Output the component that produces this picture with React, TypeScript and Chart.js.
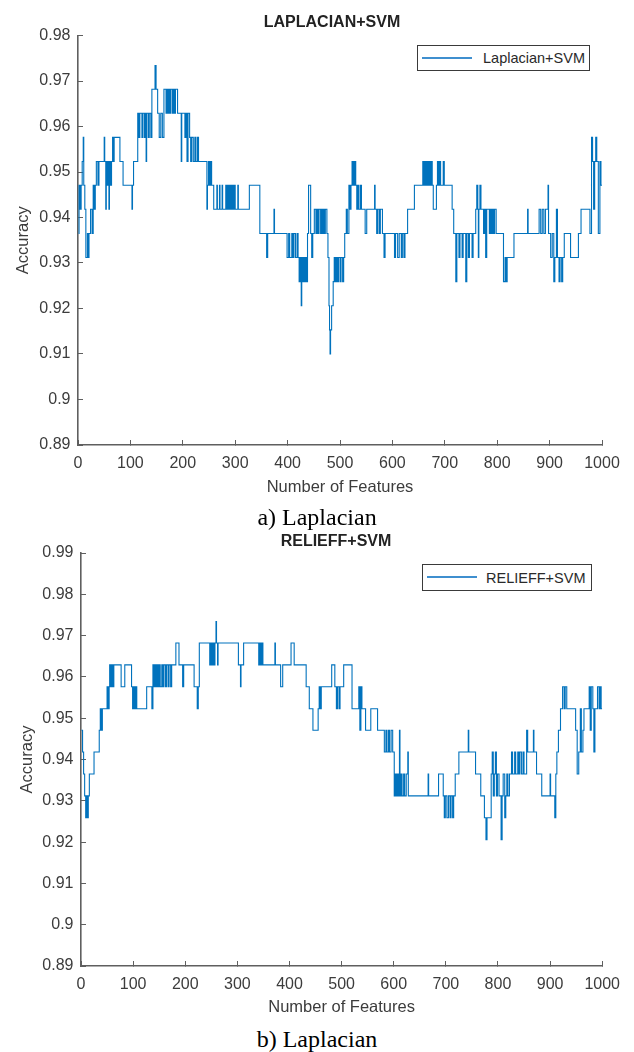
import React, { useEffect, useRef } from "react";
import { Chart, registerables } from "chart.js";

Chart.register(...registerables);

// ---------- data ----------
// Each pair: [number of features where the value starts, accuracy held until the next pair]
const laplacianSteps: [number, number][] = [
  [1,.9365],[2,.9471],[4,.9418],[6,.9471],[8,.9523],[10,.9576],[11,.9471],[13,.9418],[15,.9312],[18,.9365],[19,.9312],[21,.9365],[24,.9418],[27,.9365],[29,.9471],[31,.9418],[33,.9471],[35,.9523],[38,.9471],[40,.9523],[50,.9576],[51,.9523],[53,.9418],[54,.9523],[56,.9471],[57,.9523],[59,.9418],[60,.9523],[62,.9471],[64,.9523],[66,.9576],[68,.9523],[69,.9576],[80,.9523],[86,.9471],[103,.9418],[104,.9471],[106,.9523],[114,.9629],[116,.9576],[118,.9629],[122,.9576],[124,.9629],[127,.9576],[128,.9629],[130,.9523],[131,.9629],[134,.9576],[136,.9629],[139,.9576],[141,.9682],[147,.9734],[149,.9682],[152,.9629],[155,.9576],[158,.9629],[161,.9576],[164,.9682],[168,.9629],[169,.9682],[171,.9629],[173,.9682],[175,.9629],[177,.9682],[180,.9629],[182,.9682],[184,.9629],[186,.9682],[190,.9629],[197,.9523],[198,.9629],[204,.9576],[206,.9629],[208,.9523],[210,.9629],[213,.9576],[215,.9523],[217,.9576],[220,.9523],[223,.9576],[225,.9523],[228,.9576],[230,.9523],[246,.9418],[247,.9471],[249,.9523],[251,.9471],[253,.9523],[255,.9471],[259,.9418],[265,.9471],[266,.9418],[270,.9471],[271,.9418],[275,.9471],[276,.9418],[282,.9471],[284,.9418],[285,.9471],[287,.9418],[288,.9471],[290,.9418],[291,.9471],[293,.9418],[294,.9471],[296,.9418],[298,.9471],[300,.9418],[305,.9471],[306,.9418],[327,.9471],[347,.9365],[360,.9312],[362,.9365],[374,.9418],[375,.9365],[399,.9312],[402,.9365],[404,.9312],[408,.9365],[410,.9312],[412,.9365],[415,.9312],[418,.9365],[420,.9312],[422,.9259],[424,.9312],[426,.9206],[427,.9312],[429,.9259],[431,.9312],[433,.9259],[434,.9312],[436,.9259],[438,.9365],[440,.9471],[444,.9365],[446,.9312],[448,.9365],[451,.9418],[454,.9365],[456,.9418],[458,.9365],[460,.9418],[463,.9365],[465,.9418],[467,.9365],[469,.9418],[471,.9365],[472,.9418],[475,.9365],[477,.9312],[479,.9206],[480,.9153],[481,.9100],[482,.9153],[484,.9206],[487,.9259],[489,.9312],[491,.9259],[493,.9312],[495,.9259],[497,.9312],[500,.9259],[502,.9312],[505,.9259],[507,.9312],[509,.9365],[512,.9418],[514,.9365],[517,.9471],[519,.9418],[521,.9471],[523,.9523],[524,.9471],[526,.9523],[527,.9471],[529,.9523],[530,.9471],[532,.9418],[534,.9471],[536,.9418],[539,.9471],[541,.9418],[548,.9365],[551,.9418],[566,.9471],[567,.9418],[570,.9365],[572,.9418],[575,.9365],[577,.9418],[581,.9365],[584,.9312],[586,.9365],[604,.9312],[606,.9365],[610,.9312],[613,.9365],[617,.9312],[619,.9365],[622,.9312],[624,.9365],[629,.9418],[642,.9471],[658,.9523],[660,.9471],[662,.9523],[664,.9471],[666,.9523],[668,.9471],[670,.9523],[672,.9471],[674,.9523],[676,.9471],[678,.9418],[684,.9471],[686,.9523],[688,.9471],[690,.9523],[692,.9471],[697,.9523],[699,.9471],[714,.9418],[717,.9365],[721,.9259],[723,.9365],[727,.9312],[729,.9365],[733,.9312],[735,.9365],[740,.9259],[742,.9365],[745,.9312],[747,.9365],[752,.9312],[754,.9365],[759,.9418],[761,.9471],[763,.9418],[764,.9312],[765,.9418],[767,.9471],[769,.9418],[774,.9365],[776,.9418],[778,.9312],[780,.9418],[785,.9365],[787,.9418],[789,.9365],[791,.9418],[793,.9365],[795,.9418],[798,.9365],[812,.9259],[815,.9312],[817,.9259],[819,.9312],[832,.9365],[858,.9418],[859,.9365],[880,.9418],[883,.9365],[886,.9418],[889,.9365],[892,.9418],[897,.9471],[898,.9365],[902,.9312],[905,.9365],[908,.9259],[910,.9312],[913,.9418],[915,.9312],[918,.9259],[920,.9312],[923,.9259],[925,.9312],[928,.9365],[940,.9312],[955,.9365],[960,.9418],[977,.9365],[980,.9576],[982,.9523],[984,.9418],[986,.9523],[988,.9576],[990,.9523],[993,.9365],[996,.9523],[998,.9471],[1000,.9471]
];

const relieffSteps: [number, number][] = [
  [1,.9471],[3,.9418],[5,.9365],[7,.9312],[9,.9259],[10,.9312],[12,.9259],[14,.9312],[16,.9365],[25,.9418],[35,.9471],[37,.9523],[39,.9471],[41,.9523],[50,.9576],[52,.9523],[54,.9576],[55,.9629],[57,.9576],[59,.9629],[61,.9576],[63,.9629],[77,.9576],[84,.9629],[97,.9576],[99,.9523],[101,.9576],[103,.9523],[105,.9576],[107,.9523],[126,.9576],[136,.9523],[138,.9629],[140,.9576],[142,.9629],[144,.9576],[146,.9629],[148,.9576],[150,.9629],[152,.9576],[155,.9629],[157,.9576],[159,.9629],[162,.9576],[164,.9629],[167,.9576],[169,.9629],[172,.9576],[174,.9629],[182,.9682],[188,.9629],[195,.9576],[197,.9629],[217,.9576],[223,.9523],[225,.9576],[227,.9682],[247,.9629],[249,.9682],[251,.9629],[253,.9682],[255,.9629],[257,.9682],[259,.9734],[260,.9682],[262,.9629],[263,.9682],[302,.9629],[306,.9576],[307,.9629],[312,.9682],[341,.9629],[343,.9682],[345,.9629],[347,.9682],[349,.9629],[372,.9682],[373,.9629],[383,.9576],[387,.9629],[403,.9682],[409,.9629],[432,.9576],[438,.9523],[445,.9471],[455,.9523],[457,.9576],[459,.9523],[461,.9576],[481,.9629],[487,.9576],[490,.9523],[492,.9576],[495,.9523],[497,.9576],[504,.9629],[520,.9523],[533,.9576],[535,.9471],[537,.9576],[539,.9523],[546,.9471],[556,.9523],[569,.9471],[582,.9418],[585,.9471],[587,.9418],[590,.9471],[592,.9418],[595,.9471],[598,.9418],[601,.9312],[603,.9365],[605,.9312],[607,.9365],[609,.9312],[611,.9471],[612,.9312],[614,.9365],[616,.9312],[619,.9365],[621,.9312],[624,.9365],[627,.9418],[628,.9312],[666,.9365],[667,.9312],[686,.9365],[695,.9312],[697,.9259],[699,.9312],[702,.9259],[705,.9312],[708,.9259],[710,.9312],[713,.9259],[715,.9312],[718,.9365],[725,.9418],[743,.9471],[744,.9418],[757,.9365],[767,.9312],[774,.9259],[777,.9206],[779,.9259],[787,.9365],[789,.9418],[791,.9312],[793,.9365],[795,.9418],[797,.9312],[799,.9365],[802,.9312],[806,.9206],[808,.9312],[810,.9365],[813,.9259],[815,.9312],[817,.9365],[819,.9312],[822,.9365],[826,.9418],[828,.9365],[832,.9418],[834,.9365],[838,.9418],[840,.9365],[842,.9418],[845,.9365],[848,.9418],[850,.9365],[855,.9471],[857,.9418],[868,.9471],[869,.9418],[874,.9365],[884,.9312],[900,.9365],[901,.9312],[909,.9259],[911,.9365],[913,.9418],[916,.9471],[920,.9523],[924,.9576],[927,.9523],[929,.9576],[932,.9523],[949,.9471],[952,.9365],[955,.9418],[958,.9523],[960,.9418],[963,.9471],[965,.9523],[975,.9576],[977,.9471],[979,.9576],[982,.9523],[984,.9418],[986,.9523],[991,.9576],[994,.9523],[996,.9576],[998,.9523],[1000,.9523]
];

const xRange = [0, 1000];
const xStep = 100;
const yStep = 0.01;
const laplacianYRange = [0.89, 0.98];
const relieffYRange = [0.89, 0.99];

const xAxisTitle = "Number of Features";
const yAxisTitle = "Accuracy";

// ---------- styles ----------
const SANS = "'Liberation Sans', Arial, Helvetica, sans-serif";
const SERIF = "'Liberation Serif', 'Times New Roman', serif";
const LINE_COLOR = "#0072BD";
const LEGEND_LINE_COLOR = "#3f8fcf";
const AXIS_COLOR = "#5f5f5f";
const TEXT_COLOR = "#3c3c3c";
const CANVAS_W = 634;
const CANVAS_H = 505;

type Area = { left: number; right: number; top: number; bottom: number };

type PanelProps = {
  top: number;
  steps: [number, number][];
  yRange: number[];
  seriesLabel: string;
  title: string;
  caption: string;
  area: Area;
  titleCenter: [number, number];
  legendBox: { left: number; top: number; width: number; height: number; textLeft: number };
  yTitleCenterX: number;
  xTitleCenterY: number;
  captionCenterY: number;
};

function Panel(p: PanelProps) {
  const ref = useRef<HTMLCanvasElement | null>(null);

  useEffect(() => {
    if (!ref.current) return;
    const tickFont = { family: SANS, size: 16 };
    const axisTitleFont = { family: SANS, size: 16.5 };
    const lh = axisTitleFont.size * 1.2;
    const chart = new Chart(ref.current, {
      type: "line",
      data: {
        datasets: [
          {
            label: p.seriesLabel,
            data: p.steps.map(([x, y]) => ({ x, y })),
            borderColor: LINE_COLOR,
            backgroundColor: LINE_COLOR,
            borderWidth: 1.1,
            pointRadius: 0,
            stepped: true,
            fill: false,
          },
        ],
      },
      options: {
        animation: false,
        responsive: false,
        events: [],
        layout: {
          padding: { top: p.area.top, right: CANVAS_W - p.area.right, left: 0, bottom: 0 },
        },
        plugins: {
          legend: { display: false },
          title: { display: false },
          tooltip: { enabled: false },
        },
        scales: {
          x: {
            type: "linear",
            min: xRange[0],
            max: xRange[1],
            afterFit: (s: any) => {
              s.height = CANVAS_H - p.area.bottom;
            },
            ticks: {
              stepSize: xStep,
              autoSkip: false,
              maxRotation: 0,
              padding: 14,
              color: TEXT_COLOR,
              font: tickFont,
              callback: (v: any) => String(v),
            },
            grid: {
              drawOnChartArea: false,
              drawTicks: true,
              tickLength: -5,
              color: AXIS_COLOR,
              lineWidth: 1,
            },
            border: { color: AXIS_COLOR, width: 1.6 },
            title: {
              display: true,
              text: xAxisTitle,
              color: TEXT_COLOR,
              font: axisTitleFont,
              padding: { top: 0, bottom: CANVAS_H - p.xTitleCenterY - lh / 2 },
            },
          },
          y: {
            type: "linear",
            min: p.yRange[0],
            max: p.yRange[1],
            afterFit: (s: any) => {
              s.width = p.area.left;
            },
            ticks: {
              stepSize: yStep,
              autoSkip: false,
              padding: 12.5,
              color: TEXT_COLOR,
              font: tickFont,
              callback: (v: any) => String(Number(Number(v).toFixed(2))),
            },
            grid: {
              drawOnChartArea: false,
              drawTicks: true,
              tickLength: -5,
              color: AXIS_COLOR,
              lineWidth: 1,
            },
            border: { color: AXIS_COLOR, width: 1.6 },
            title: {
              display: true,
              text: yAxisTitle,
              color: TEXT_COLOR,
              font: axisTitleFont,
              padding: { top: p.yTitleCenterX - lh / 2, bottom: 0 },
            },
          },
        },
      },
    } as any);
    return () => chart.destroy();
  }, [p]);

  const lb = p.legendBox;
  const sampleTop = Math.round((lb.height - 3) / 2) - 1;

  return (
    <>
      <canvas
        ref={ref}
        width={CANVAS_W}
        height={CANVAS_H}
        style={{ position: "absolute", left: 0, top: p.top, width: CANVAS_W, height: CANVAS_H }}
      />
      <div
        style={{
          position: "absolute",
          left: p.titleCenter[0],
          top: p.top + p.titleCenter[1],
          transform: "translate(-50%, -50%)",
          font: `bold 16px ${SANS}`,
          color: "#222",
          whiteSpace: "nowrap",
          lineHeight: "1",
        }}
      >
        {p.title}
      </div>
      <div
        style={{
          position: "absolute",
          left: lb.left,
          top: p.top + lb.top,
          width: lb.width,
          height: lb.height,
          boxSizing: "border-box",
          border: "1.5px solid #3a3a3a",
          background: "#fff",
        }}
      >
        <div
          style={{
            position: "absolute",
            left: 4,
            width: 50,
            top: sampleTop,
            height: 1.5,
            background: LEGEND_LINE_COLOR,
          }}
        />
        <div
          style={{
            position: "absolute",
            left: lb.textLeft,
            top: "50%",
            transform: "translateY(-50%)",
            font: `14.5px ${SANS}`,
            color: "#2a2a2a",
            whiteSpace: "nowrap",
            lineHeight: "1",
          }}
        >
          {p.seriesLabel}
        </div>
      </div>
      <div
        style={{
          position: "absolute",
          left: 317,
          top: p.top + p.captionCenterY,
          transform: "translate(-50%, -50%)",
          font: `24px ${SERIF}`,
          color: "#000",
          whiteSpace: "nowrap",
          lineHeight: "1",
        }}
      >
        {p.caption}
      </div>
    </>
  );
}

const panelA: PanelProps = {
  top: 0,
  steps: laplacianSteps,
  yRange: laplacianYRange,
  seriesLabel: "Laplacian+SVM",
  title: "LAPLACIAN+SVM",
  caption: "a) Laplacian",
  area: { left: 78, right: 602, top: 35.5, bottom: 445 },
  titleCenter: [332, 22],
  legendBox: { left: 417, top: 45, width: 173, height: 26, textLeft: 65 },
  yTitleCenterX: 23,
  xTitleCenterY: 487,
  captionCenterY: 517,
};

const panelB: PanelProps = {
  top: 520,
  steps: relieffSteps,
  yRange: relieffYRange,
  seriesLabel: "RELIEFF+SVM",
  title: "RELIEFF+SVM",
  caption: "b) Laplacian",
  area: { left: 81, right: 605, top: 33, bottom: 446 },
  titleCenter: [336, 21],
  legendBox: { left: 422, top: 44, width: 170, height: 27, textLeft: 63 },
  yTitleCenterX: 27,
  xTitleCenterY: 487.5,
  captionCenterY: 519,
};

export default function App() {
  return (
    <div
      style={{
        position: "absolute",
        left: 0,
        top: 0,
        width: 634,
        height: 1052,
        background: "#fff",
        overflow: "hidden",
      }}
    >
      <Panel {...panelA} />
      <Panel {...panelB} />
    </div>
  );
}
